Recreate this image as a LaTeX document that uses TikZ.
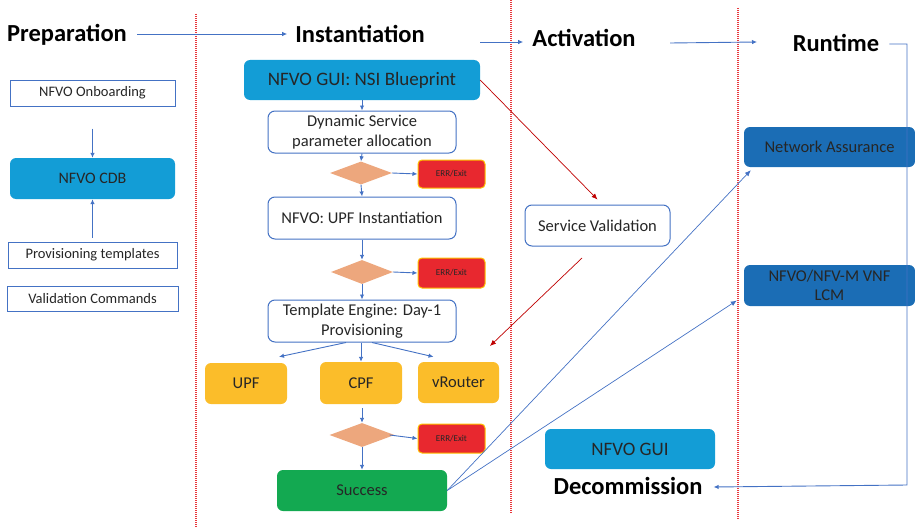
\documentclass[tikz,border=0pt]{standalone}
\usepackage{fontspec}
\setmainfont{Carlito}
\usetikzlibrary{shapes.geometric,arrows.meta}
\definecolor{lblue}{HTML}{139DD6}
\definecolor{dblue}{HTML}{1B6DB5}
\definecolor{edge}{HTML}{4472C4}
\definecolor{txt}{HTML}{262626}
\definecolor{peach}{HTML}{EDA77D}
\definecolor{errred}{HTML}{E8282F}
\definecolor{errrim}{HTML}{FFC000}
\definecolor{gold}{HTML}{FBBD2A}
\definecolor{okgreen}{HTML}{13A951}
\definecolor{sep}{HTML}{E8383D}
\tikzset{
  x=1pt, y=-1pt,
  every node/.style={text=txt, inner sep=0pt, align=center},
  phase/.style={font=\fontsize{24.5}{27}\selectfont\bfseries, text=black},
  plainbox/.style={draw=edge, line width=1pt, fill=white, font=\fontsize{14.5}{17}\selectfont},
  whitebox/.style={draw=edge, line width=1pt, fill=white, rounded corners=7pt, font=\fontsize{16.5}{19.5}\selectfont},
  lbbox/.style={fill=lblue, rounded corners=6pt},
  dbbox/.style={fill=dblue, rounded corners=6pt, font=\fontsize{16.5}{19.5}\selectfont},
  goldbox/.style={fill=gold, rounded corners=6pt, font=\fontsize{16.5}{19.5}\selectfont},
  errbox/.style={fill=errred, draw=errrim, line width=1pt, rounded corners=4pt, font=\fontsize{9}{11}\selectfont},
  check/.style={diamond, fill=peach, minimum width=62pt, minimum height=23pt},
  flow/.style={draw=edge, line width=0.9pt, -{Latex[length=5pt,width=4.5pt]}},
  thin flow/.style={draw=edge, line width=0.7pt, -{Latex[length=6pt,width=5pt]}},
  redflow/.style={draw=red!75!black, line width=0.7pt, -{Latex[length=6pt,width=5pt]}},
  divider/.style={draw=sep, line width=1.2pt, dash pattern=on 1pt off 1pt},
}
\begin{document}
\begin{tikzpicture}
\useasboundingbox (0,0) rectangle (915,527);

% phase dividers
\draw[divider] (196,14) -- (196,527);
\draw[divider] (511,0) -- (511,513);
\draw[divider] (738,8) -- (738,520);

% phase headings
\node[phase] (prep) at (67,35) {Preparation};
\node[phase] (inst) at (360,34) {Instantiation};
\node[phase] (act) at (584,38) {Activation};
\node[phase] (run) at (836,43) {Runtime};
\node[phase] (decom) at (628,486) {Decommission};

\coordinate (a2s) at (480,42);
\coordinate (a3s) at (670,43);
\coordinate (a3e) at (757,42);
\draw[flow] ([xshift=10pt,yshift=1pt]prep.east) -- ([xshift=-8pt]inst.west);
\draw[flow] (a2s) -- ([xshift=-9pt,yshift=-4pt]act.west);
\draw[flow] (a3s) -- (a3e);

% preparation column
\node[plainbox, minimum width=165pt, minimum height=26pt] (onb) at (92.5,93) {NFVO Onboarding};
\node[lbbox, minimum width=165pt, minimum height=41pt, font=\fontsize{16}{19}\selectfont] (cdb) at (92.5,178.5) {NFVO CDB};
\node[plainbox, minimum width=169pt, minimum height=26pt] (prov) at (92.5,255) {Provisioning templates};
\node[plainbox, minimum width=171pt, minimum height=25pt] (valc) at (92.5,298.5) {Validation Commands};
\draw[flow] ([yshift=-22pt]onb.south) -- (cdb.north);
\draw[flow] ([yshift=4pt]prov.north) -- (cdb.south);

% instantiation column
\node[lbbox, minimum width=236pt, minimum height=40pt, font=\fontsize{19}{22}\selectfont] (gui) at (362,80) {NFVO GUI: NSI Blueprint};
\node[whitebox, minimum width=188pt, minimum height=42pt] (dyn) at (362,132) {Dynamic Service\\parameter allocation};
\node[check] (d1) at (361,173) {};
\node[errbox, minimum width=67pt, minimum height=28pt] (err1) at (451.5,174) {ERR/Exit};
\node[whitebox, minimum width=188pt, minimum height=42pt] (upfi) at (362,218) {NFVO: UPF Instantiation};
\node[check, minimum height=24pt] (d2) at (362,272) {};
\node[errbox, minimum width=67pt, minimum height=30pt] (err2) at (451.5,273) {ERR/Exit};
\node[whitebox, minimum width=188pt, minimum height=42pt] (tmpl) at (362,321) {Template Engine: Day-1\\Provisioning};
\node[goldbox, minimum width=82pt, minimum height=41pt] (upf) at (246,383.5) {UPF};
\node[goldbox, minimum width=82pt, minimum height=42pt] (cpf) at (361,383) {CPF};
\node[goldbox, minimum width=81pt, minimum height=41pt] (vr) at (458.5,382.5) {vRouter};
\node[check, minimum width=65pt, minimum height=24pt] (d3) at (362,435) {};
\node[errbox, minimum width=67pt, minimum height=29pt] (err3) at (451.5,438.5) {ERR/Exit};
\node[fill=okgreen, rounded corners=6pt, minimum width=170pt, minimum height=41pt, font=\fontsize{16.5}{19.5}\selectfont] (succ) at (362,490.5) {Success};

\draw[flow] (gui.south) -- (dyn.north);
\draw[flow] (dyn.south) -- (d1.north);
\draw[flow] (d1.east) -- (err1.west);
\draw[flow] (d1.south) -- (upfi.north);
\draw[flow] (upfi.south) -- (d2.north);
\draw[flow] (d2.east) -- (err2.west);
\draw[flow] (d2.south) -- (tmpl.north);
\draw[flow] ([xshift=-16pt]tmpl.south) -- ([xshift=33pt,yshift=6pt]upf.north);
\draw[flow] (tmpl.south -| cpf.north) -- (cpf.north);
\draw[flow] ([xshift=10pt]tmpl.south) -- ([xshift=-25pt,yshift=5pt]vr.north);
\draw[flow] ([yshift=-4pt]cpf.south -| d3.north) -- (d3.north);
\draw[flow] ([xshift=-5pt]d3.east) -- (err3.west);
\draw[flow] (d3.south) -- (succ.north);

% activation column
\node[whitebox, minimum width=145pt, minimum height=41pt] (sv) at (597.5,225.5) {Service Validation};
\coordinate (svtail) at (582,258);
\coordinate (svhead) at (490,346);
\draw[redflow] (gui.east) -- ([yshift=5pt]sv.north);
\draw[redflow] (svtail) -- (svhead);

% runtime column
\node[dbbox, minimum width=171pt, minimum height=40pt] (na) at (829.5,147) {Network Assurance};
\node[dbbox, minimum width=171pt, minimum height=41pt] (lcm) at (829.5,285.5) {NFVO/NFV-M VNF\\LCM};
\draw[thin flow] (succ.east) -- ([xshift=7pt,yshift=-3pt]na.south west);
\draw[thin flow] (succ.east) -- ([xshift=-7pt,yshift=-15pt]lcm.west);

% decommission
\node[lbbox, minimum width=170pt, minimum height=40pt, font=\fontsize{19}{22}\selectfont] (gui2) at (630,449) {NFVO GUI};

% runtime loop back to decommission
\coordinate (loop) at (907,485);
\draw[flow] ([xshift=10pt,yshift=-1pt]run.east) -| (loop) -- ([xshift=11pt,yshift=-1pt]decom.east);
\end{tikzpicture}
\end{document}
